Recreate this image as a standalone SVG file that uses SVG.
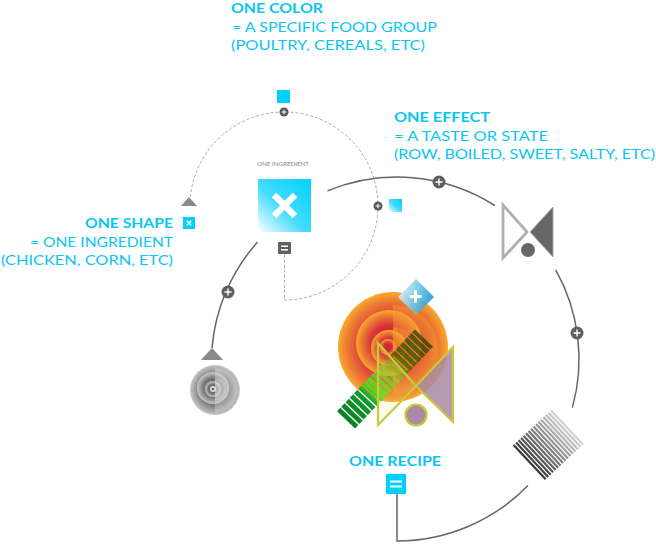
<svg xmlns="http://www.w3.org/2000/svg" width="656" height="544" viewBox="0 0 656 544">
<style>
.hd{font-family:Lato,"Open Sans","Liberation Sans",sans-serif;font-weight:700;font-size:14px;fill:#08c6f0}
.bd{font-family:Lato,"Open Sans","Liberation Sans",sans-serif;font-weight:400;font-size:14px;fill:#08c6f0}
.sm{font-family:Lato,"Open Sans","Liberation Sans",sans-serif;font-weight:400;font-size:6px;fill:#888}
.solid{fill:none;stroke:#666;stroke-width:1.5}
.dash{fill:none;stroke:#aaa;stroke-width:1;stroke-dasharray:3 2}
.cyan{fill:#00cfff}
.olive{stroke:#c8ca3a;stroke-width:2.2;stroke-linejoin:miter}
</style>
<defs>
<linearGradient id="gCyan" x1="1" y1="0" x2="0" y2="1">
<stop offset="0" stop-color="#00d2ff"/><stop offset="0.55" stop-color="#45dcfc"/><stop offset="1" stop-color="#ffffff"/>
</linearGradient>
<radialGradient id="gOrange">
<stop offset="0" stop-color="#c8183e"/><stop offset="0.55" stop-color="#d9333b"/><stop offset="0.85" stop-color="#ee7f32"/><stop offset="1" stop-color="#f7ab2d"/>
</radialGradient>
<radialGradient id="gGray">
<stop offset="0" stop-color="#444"/><stop offset="0.6" stop-color="#777"/><stop offset="1" stop-color="#c8c8c8"/>
</radialGradient>
<linearGradient id="gBlue" x1="0" y1="0.3" x2="1" y2="0.6">
<stop offset="0" stop-color="#e6f7fd"/><stop offset="0.45" stop-color="#7ccbec"/><stop offset="1" stop-color="#1a92d4"/>
</linearGradient>
<linearGradient id="gGreen" gradientUnits="userSpaceOnUse" x1="-56.5" y1="0" x2="56.5" y2="0">
<stop offset="0" stop-color="#0a7f27" stop-opacity="1"/><stop offset="0.27" stop-color="#149c2a" stop-opacity="1"/><stop offset="0.36" stop-color="#3ce81e" stop-opacity="0.88"/><stop offset="0.58" stop-color="#86d020" stop-opacity="0.72"/><stop offset="0.72" stop-color="#405000" stop-opacity="0.75"/><stop offset="1" stop-color="#344200" stop-opacity="0.8"/>
</linearGradient>
<linearGradient id="gStripe" gradientUnits="userSpaceOnUse" x1="0" y1="-27" x2="0" y2="27">
<stop offset="0" stop-color="#d6d6d6"/><stop offset="1" stop-color="#303030"/>
</linearGradient>
<g id="plusBig"><circle r="6.5" fill="#5f5f5f"/><path d="M-3.5,0H3.5M0,-3.5V3.5" stroke="#fff" stroke-width="1.4"/></g>
<g id="plusSmall"><circle r="4.5" fill="#5a5a5a"/><path d="M-2.3,0H2.3M0,-2.3V2.3" stroke="#fff" stroke-width="1"/></g>
</defs>

<g id="connectors">
<path class="dash" d="M190.4,197 A94,94 0 1 1 284.5,300 L284.5,253"/>
<path class="solid" d="M327.4,190.9 A182,182 0 0 1 494.8,205.5"/>
<path class="solid" d="M555.7,269.9 A182,182 0 0 1 572.4,407.6"/>
<path class="solid" d="M527.9,485.4 A182,182 0 0 1 397,541 L397,494"/>
<path class="solid" d="M257.6,242 A182,182 0 0 0 212,348"/>
<use href="#plusSmall" x="284" y="112"/>
<use href="#plusSmall" x="378" y="206"/>
<use href="#plusBig" x="439" y="182"/>
<use href="#plusBig" x="577" y="333"/>
<use href="#plusBig" x="228" y="292"/>
</g>

<g id="one-color">
<text class="hd" x="231" y="12.7" textLength="92" lengthAdjust="spacingAndGlyphs">ONE COLOR</text>
<text class="bd" x="232" y="31.7" textLength="205" lengthAdjust="spacingAndGlyphs">= A SPECIFIC FOOD GROUP</text>
<text class="bd" x="231" y="50" textLength="194" lengthAdjust="spacingAndGlyphs">(POULTRY, CEREALS, ETC)</text>
<rect class="cyan" x="277" y="90" width="13" height="13"/>
</g>

<g id="one-effect">
<text class="hd" x="394" y="121.7" textLength="96" lengthAdjust="spacingAndGlyphs">ONE EFFECT</text>
<text class="bd" x="394" y="140.5" textLength="154" lengthAdjust="spacingAndGlyphs">= A TASTE OR STATE</text>
<text class="bd" x="394" y="159" textLength="261" lengthAdjust="spacingAndGlyphs">(ROW, BOILED, SWEET, SALTY, ETC)</text>
<rect x="389" y="199" width="13" height="13" fill="url(#gCyan)"/>
</g>

<g id="one-shape">
<text class="hd" x="85" y="228" textLength="88" lengthAdjust="spacingAndGlyphs">ONE SHAPE</text>
<text class="bd" x="30" y="246.7" textLength="143" lengthAdjust="spacingAndGlyphs">= ONE INGREDIENT</text>
<text class="bd" x="1" y="265" textLength="172" lengthAdjust="spacingAndGlyphs">(CHICKEN, CORN, ETC)</text>
<rect class="cyan" x="183" y="217" width="12" height="12"/>
<path d="M186.8,220.8 L191.2,225.2 M191.2,220.8 L186.8,225.2" stroke="#fff" stroke-width="1.6"/>
<polygon points="189,197 181,206 197,206" fill="#8a8a8a"/>
</g>

<g id="ingredient">
<text class="sm" x="257" y="166" textLength="52" lengthAdjust="spacingAndGlyphs">ONE INGREDIENT</text>
<rect x="258" y="179" width="53" height="53" fill="url(#gCyan)"/>
<path d="M274,195 L295,216 M295,195 L274,216" stroke="#fff" stroke-width="6.5"/>
<rect x="278" y="242" width="13" height="12" fill="#626262"/>
<path d="M281,246.3 H288 M281,249.7 H288" stroke="#fff" stroke-width="1.4"/>
</g>

<g id="effect-shape">
<polygon points="503,205 503,258 527,232" fill="none" stroke="#b0b0b0" stroke-width="2.8"/>
<polygon points="553,207 553,257 530,232" fill="#676767" stroke="#a8a8a8" stroke-width="1"/>
<circle cx="528" cy="250" r="7" fill="#676767"/>
</g>

<g id="shape-circle">
<polygon points="212,348 201,360 223,360" fill="#8a8a8a"/>
<circle cx="215" cy="390" r="25" fill="url(#gGray)"/>
<circle cx="213" cy="388" r="16" fill="url(#gGray)"/>
<circle cx="213" cy="389" r="8" fill="url(#gGray)"/>
<path d="M215,368 A22,22 0 0 1 215,412 Z" fill="#e8e8e8" opacity="0.35"/>
<path d="M215,378 A11,11 0 0 1 215,400 Z" fill="#e8e8e8" opacity="0.3"/>
<circle cx="213" cy="389" r="3" fill="#ddd"/>
<circle cx="213" cy="389" r="1.3" fill="#666"/>
</g>

<g id="stripes-square" transform="translate(548,445) rotate(47)">
<g fill="url(#gStripe)">
<rect x="-23.5" y="-27" width="47" height="2.2"/>
<rect x="-23.5" y="-23.6" width="47" height="2.2"/>
<rect x="-23.5" y="-20.2" width="47" height="2.2"/>
<rect x="-23.5" y="-16.8" width="47" height="2.2"/>
<rect x="-23.5" y="-13.4" width="47" height="2.2"/>
<rect x="-23.5" y="-10" width="47" height="2.2"/>
<rect x="-23.5" y="-6.6" width="47" height="2.2"/>
<rect x="-23.5" y="-3.2" width="47" height="2.2"/>
<rect x="-23.5" y="0.2" width="47" height="2.2"/>
<rect x="-23.5" y="3.6" width="47" height="2.2"/>
<rect x="-23.5" y="7" width="47" height="2.2"/>
<rect x="-23.5" y="10.4" width="47" height="2.2"/>
<rect x="-23.5" y="13.8" width="47" height="2.2"/>
<rect x="-23.5" y="17.2" width="47" height="2.2"/>
<rect x="-23.5" y="20.6" width="47" height="2.2"/>
<rect x="-23.5" y="24" width="47" height="2.2"/>
</g>
</g>

<g id="recipe-composite">
<circle cx="393" cy="347" r="55" fill="url(#gOrange)"/>
<circle cx="389" cy="343" r="33" fill="url(#gOrange)"/>
<circle cx="389" cy="348" r="18" fill="url(#gOrange)"/>
<circle cx="388" cy="347" r="8" fill="url(#gOrange)"/>
<polygon points="416,279 434,297 416,315 398,297" fill="url(#gBlue)" opacity="0.9"/>
<path d="M415.5,290.5 V302.5 M409.5,296.5 H421.5" stroke="#fff" stroke-width="3"/>
<path d="M393,305 A45,45 0 0 1 393,395 Z" fill="#f4a22e" opacity="0.45"/>
<path d="M393,327 A22,22 0 0 1 393,371 Z" fill="#f4a22e" opacity="0.4"/>
<g transform="translate(385,379) rotate(-46.4)" fill="url(#gGreen)">
<rect x="-56.5" y="-12.5" width="4.8" height="25"/>
<rect x="-50.3" y="-12.5" width="4.8" height="25"/>
<rect x="-44.1" y="-12.5" width="4.8" height="25"/>
<rect x="-37.9" y="-12.5" width="4.8" height="25"/>
<rect x="-31.7" y="-12.5" width="4.8" height="25"/>
<rect x="-25.5" y="-12.5" width="5" height="25"/>
<rect x="-19.5" y="-12.5" width="5" height="25"/>
<rect x="-13.5" y="-12.5" width="5" height="25"/>
<rect x="-7.5" y="-12.5" width="5" height="25"/>
<rect x="-1.5" y="-12.5" width="5" height="25"/>
<rect x="4.5" y="-12.5" width="5" height="25"/>
<rect x="10.5" y="-12.5" width="5" height="25"/>
<rect x="16.5" y="-12.5" width="5" height="25"/>
<rect x="22.5" y="-12.5" width="5" height="25"/>
<rect x="28.5" y="-12.5" width="5" height="25"/>
<rect x="34.5" y="-12.5" width="5" height="25"/>
<rect x="40.5" y="-12.5" width="5" height="25"/>
<rect x="46.5" y="-12.5" width="5" height="25"/>
<rect x="52.5" y="-12.5" width="4" height="25"/>
</g>
<polygon class="olive" points="453,347 453,422 416,386" fill="#a98aa2" fill-opacity="0.85"/>
<polygon class="olive" points="378,343 378,425 416,386" fill="#e8e860" fill-opacity="0.12"/>
<circle class="olive" cx="416" cy="415" r="10.5" fill="#a98aa2"/>
</g>

<g id="one-recipe">
<text class="hd" x="349" y="465.7" textLength="92" lengthAdjust="spacingAndGlyphs">ONE RECIPE</text>
<rect class="cyan" x="386" y="474" width="20" height="20"/>
<path d="M390,481.5 H402 M390,486.5 H402" stroke="#fff" stroke-width="2"/>
</g>
</svg>
